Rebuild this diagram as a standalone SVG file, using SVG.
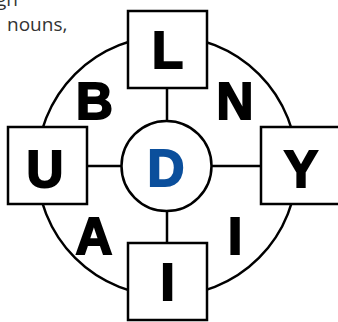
<svg xmlns="http://www.w3.org/2000/svg" width="338" height="322" viewBox="0 0 338 322">
<style>
.box{fill:#fff;stroke:#000;stroke-width:2.5}
.ln{stroke:#000;stroke-width:2.5;fill:none}
.big{font-family:"Liberation Sans",Arial,sans-serif;font-weight:bold;font-size:51px;text-anchor:middle;fill:#000;stroke:#000;stroke-width:2;stroke-linejoin:miter}
.cap{font-family:"Open Sans","Liberation Sans",sans-serif;font-size:19px;fill:#333}
</style>
<rect width="338" height="322" fill="#fff"/>
<g id="caption">
<text class="cap" x="-4" y="6">gh</text>
<text class="cap" x="7" y="31">nouns,</text>
</g>
<g id="ring"><circle class="ln" cx="167" cy="166" r="130"/></g>
<g id="connectors">
<line class="ln" x1="167" y1="88" x2="167" y2="122"/>
<line class="ln" x1="87" y1="166" x2="122" y2="166"/>
<line class="ln" x1="211" y1="166" x2="261" y2="166"/>
<line class="ln" x1="167" y1="210" x2="167" y2="243"/>
</g>
<g id="node-L"><rect class="box" x="128" y="11" width="79" height="77"/><text class="big" x="167.5" y="68">L</text></g>
<g id="node-U"><rect class="box" x="8" y="127" width="79" height="77"/><text class="big" x="45" y="187">U</text></g>
<g id="node-Y"><rect class="box" x="261" y="127" width="79" height="77"/><text class="big" x="301" y="187">Y</text></g>
<g id="node-I"><rect class="box" x="128" y="243" width="79" height="77"/><text class="big" x="167.5" y="300">I</text></g>
<g id="node-D"><circle class="box" cx="166.5" cy="166" r="45"/><text class="big" x="166" y="186" style="fill:#0b4f9c;stroke:#0b4f9c">D</text></g>
<g id="labels">
<text class="big" x="94.5" y="119">B</text>
<text class="big" x="235" y="119">N</text>
<text class="big" x="94" y="254">A</text>
<text class="big" x="235" y="254">I</text>
</g>
</svg>
